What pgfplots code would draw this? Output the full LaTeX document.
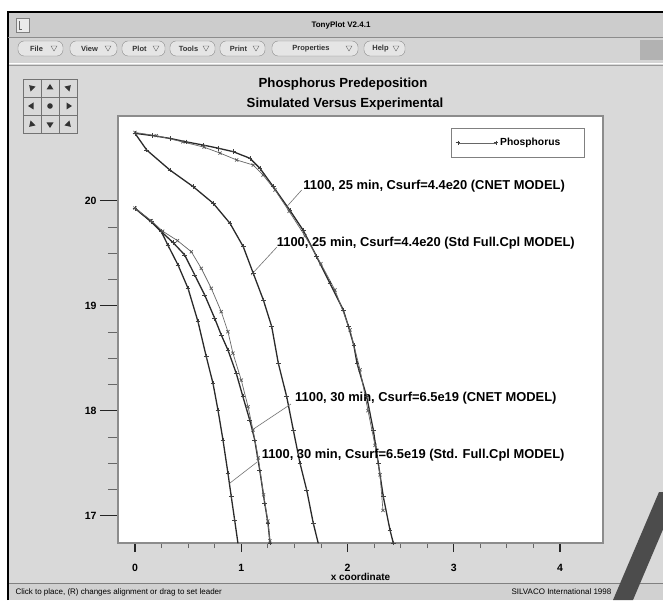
\documentclass[border=0pt]{standalone}
\usepackage{fontspec}
\setmainfont{Liberation Sans}
\usepackage{pgfplots}
\pgfplotsset{compat=1.18}
\definecolor{panel}{HTML}{D9D9D9}
\definecolor{tbar}{HTML}{CCCCCC}
\definecolor{curve}{HTML}{2A2A2A}
\newcommand\lbl{\bfseries\fontsize{12.9}{14}\selectfont}
\newcommand\menubtn[3]{%
  \draw[rounded corners=6pt, draw=black!45, fill=black!10] (#1,544) rectangle (#2,559);
  \node[font=\bfseries\fontsize{7.5}{9}\selectfont, text=black!80] at ({(#1+#2)/2-4},551.5) {#3};
  \draw[black!60] ({#2-12},554)--({#2-6},554)--({#2-9},549)--cycle;}
\newcommand\panarrow[3]{%
  \begin{scope}[shift={(#1,#2)}, rotate=#3]
  \fill[black!80] (-3.5,-1.5)--(3.5,-1.5)--(0,4)--cycle;
  \end{scope}}
\pgfplotsset{
  model/.style={curve, line width=1.3pt, mark=+, mark size=2.3pt, mark options={black!75, line width=0.7pt}},
  expdata/.style={black!60, line width=0.7pt, mark=x, mark size=2.2pt, mark options={black!65}},
}
\begin{document}
\begin{tikzpicture}[x=1pt,y=1pt]
\useasboundingbox (0,0) rectangle (663,600);
\fill[white] (0,0) rectangle (663,600);
% window frame
\fill[panel] (8,0) rectangle (663,588);
\fill[tbar] (8,563) rectangle (663,588);
\draw[black, line width=2pt] (8,0) -- (8,588) -- (663,588);
\node[font=\bfseries\fontsize{8}{9}\selectfont] at (341,575) {TonyPlot V2.4.1};
\draw[black!50, fill=black!8] (16,568) rectangle (29,582);
\draw[black!60] (19,579) -- (19,571) -- (22,571);
\draw[black!45] (8,562.5) -- (663,562.5);
% menu bar
\fill[black!17] (9,537) rectangle (663,562);
\menubtn{18}{63}{File}
\menubtn{70}{117}{View}
\menubtn{122}{165}{Plot}
\menubtn{170}{215}{Tools}
\menubtn{220}{265}{Print}
\menubtn{272}{358}{Properties}
\menubtn{364}{405}{Help}
\fill[black!30] (640,540) rectangle (663,560);
\draw[white, line width=1pt] (9,536) -- (663,536);
\draw[black!40] (9,535) -- (663,535);
% status bar
\fill[black!18] (9,0) rectangle (663,16);
\draw[black!50, line width=1pt] (9,16.5) -- (663,16.5);
\node[anchor=west, font=\fontsize{8}{9}\selectfont] at (12,8) {Click to place, (R) changes alignment or drag to set leader};
\node[anchor=west, font=\fontsize{8}{9}\selectfont] at (508,8) {SILVACO International 1998};
% pan grid
\foreach \i in {0,1,2} {\foreach \j in {0,1,2} {
  \draw[fill=black!15, draw=black!55] ({23+18*\i},{503-18*\j}) rectangle ({41+18*\i},{521-18*\j});}}
\panarrow{50}{512}{0}
\panarrow{50}{476}{180}
\panarrow{32}{494}{90}
\panarrow{68}{494}{-90}
\panarrow{32}{512}{45}
\panarrow{68}{512}{-45}
\panarrow{32}{476}{135}
\panarrow{68}{476}{-135}
\fill[black!80] (50,494) circle (2.8);
% titles
\node[font=\bfseries\fontsize{13.2}{15}\selectfont] at (343,516) {Phosphorus Predeposition};
\node[font=\bfseries\fontsize{13.2}{15}\selectfont] at (345,496) {Simulated Versus Experimental};

\begin{axis}[
  at={(118pt,57pt)}, anchor=south west,
  width=485pt, height=427pt, scale only axis,
  xmin=-0.16, xmax=4.405, ymin=16.74, ymax=20.807,
  xtick={0,1,2,3,4}, ytick={17,18,19,20},
  minor x tick num=3, minor y tick num=3,
  tick pos=left, tick align=outside,
  major tick length=18pt, minor tick length=10pt,
  every major x tick/.append style={/pgfplots/major tick length=9pt},
  every minor x tick/.append style={/pgfplots/minor tick length=5pt},
  every major tick/.append style={line width=1.2pt, black!85},
  every minor tick/.append style={line width=0.8pt, black!60},
  axis line style={draw=black!45, line width=1.6pt},
  axis background/.style={fill=white},
  ticklabel style={font=\bfseries\fontsize{10.5}{12}\selectfont},
  /pgf/number format/assume math mode=true,
  xlabel={x coordinate},
  xlabel style={font=\bfseries\fontsize{10}{12}\selectfont, at={(axis description cs:0.5,0)}, anchor=center, yshift=-34pt},
  legend style={at={(0.687,0.972)}, anchor=north west, draw=black!50, line width=0.8pt, fill=white,
    font=\bfseries\fontsize{10.3}{12}\selectfont, inner xsep=4pt, inner ysep=8pt, cells={anchor=west},
    /tikz/every even column/.append style={column sep=14pt}},
  legend image code/.code={\draw[#1, line width=0.6pt, black!60] plot coordinates {(0pt,0pt) (38pt,0pt)};},
]
% 1100, 25 min CNET model
\addplot[model] coordinates {
(0,20.642) (0.165,20.62) (0.329,20.594) (0.486,20.56) (0.643,20.530) (0.785,20.50) (0.925,20.467)
(1.082,20.404) (1.176,20.309) (1.302,20.133) (1.459,19.907) (1.584,19.717) (1.710,19.467)
(1.835,19.213) (1.96,18.96) (2.01,18.80) (2.06,18.62) (2.09,18.45) (2.181,18.133) (2.243,17.816)
(2.290,17.499) (2.337,17.181) (2.400,16.864) (2.431,16.740)};
\addlegendentry{Phosphorus\hspace*{18pt}}
% experimental, 25 min
\addplot[forget plot, expdata] coordinates {
(0,20.65) (0.2,20.62) (0.45,20.56) (0.65,20.51) (0.8,20.454) (0.957,20.388) (1.113,20.34)
(1.205,20.245) (1.318,20.102) (1.45,19.9) (1.6,19.664) (1.75,19.40) (1.882,19.15) (2.024,18.77)
(2.118,18.39) (2.193,18.0) (2.259,17.67) (2.306,17.39) (2.334,17.05)};
% 1100, 25 min Std Full.Cpl model
\addplot[forget plot, model] coordinates {
(0,20.642) (0.110,20.483) (0.329,20.292) (0.549,20.133) (0.737,19.975) (0.894,19.785) (1.019,19.562)
(1.113,19.309) (1.208,19.055) (1.287,18.800) (1.349,18.451) (1.428,18.133) (1.490,17.816)
(1.553,17.499) (1.616,17.245) (1.678,16.928) (1.725,16.737)};
% 1100, 30 min Std Full.Cpl model
\addplot[forget plot, model] coordinates {
(0,19.928) (0.153,19.800) (0.248,19.705) (0.311,19.574) (0.405,19.388) (0.499,19.166) (0.593,18.848)
(0.671,18.514) (0.734,18.261) (0.781,18.006) (0.828,17.721) (0.875,17.404) (0.906,17.181)
(0.938,16.959) (0.969,16.737)};
% 1100, 30 min CNET model
\addplot[forget plot, model] coordinates {
(0,19.928) (0.153,19.800) (0.248,19.705) (0.36,19.60) (0.468,19.483) (0.562,19.293) (0.656,19.102)
(0.750,18.880) (0.812,18.721) (0.875,18.578) (0.953,18.356) (1.016,18.133) (1.080,17.911)
(1.127,17.721) (1.174,17.435) (1.221,17.118) (1.252,16.928) (1.271,16.740)};
% experimental, 30 min
\addplot[forget plot, expdata] coordinates {
(0,19.93) (0.153,19.81) (0.26,19.71) (0.40,19.62) (0.530,19.514) (0.624,19.356) (0.718,19.166)
(0.812,18.943) (0.875,18.752) (0.922,18.547) (1.0,18.292) (1.064,18.038) (1.111,17.816)
(1.16,17.55) (1.21,17.20) (1.25,16.95) (1.27,16.76)};
% annotations
\draw[black!55, line width=0.6pt] (axis cs:1.569,20.102) -- (axis cs:1.428,19.943);
\node[anchor=west, inner sep=0pt, font=\lbl] at (axis cs:1.584,20.138) {1100, 25 min, Csurf=4.4e20 (CNET MODEL)};
\draw[black!55, line width=0.6pt] (axis cs:1.336,19.559) -- (axis cs:1.092,19.292);
\node[anchor=west, inner sep=0pt, font=\lbl] at (axis cs:1.334,19.60) {1100, 25 min, Csurf=4.4e20 (Std Full.Cpl MODEL)};
\draw[black!55, line width=0.6pt] (axis cs:1.468,18.064) -- (axis cs:1.111,17.823);
\node[anchor=west, inner sep=0pt, font=\lbl] at (axis cs:1.506,18.118) {1100, 30 min, Csurf=6.5e19 (CNET MODEL)};
\draw[black!55, line width=0.6pt] (axis cs:1.148,17.510) -- (axis cs:0.891,17.309);
\node[anchor=west, inner sep=0pt, font=\lbl] at (axis cs:1.192,17.578) {1100, 30 min, Csurf=6.5e19 (Std. Full.Cpl MODEL)};
\end{axis}
% watermark stroke
\fill[black!70] (613,0) -- (633,0) -- (663,70.6) -- (663,108) -- (659,108) -- cycle;
\end{tikzpicture}
\end{document}
